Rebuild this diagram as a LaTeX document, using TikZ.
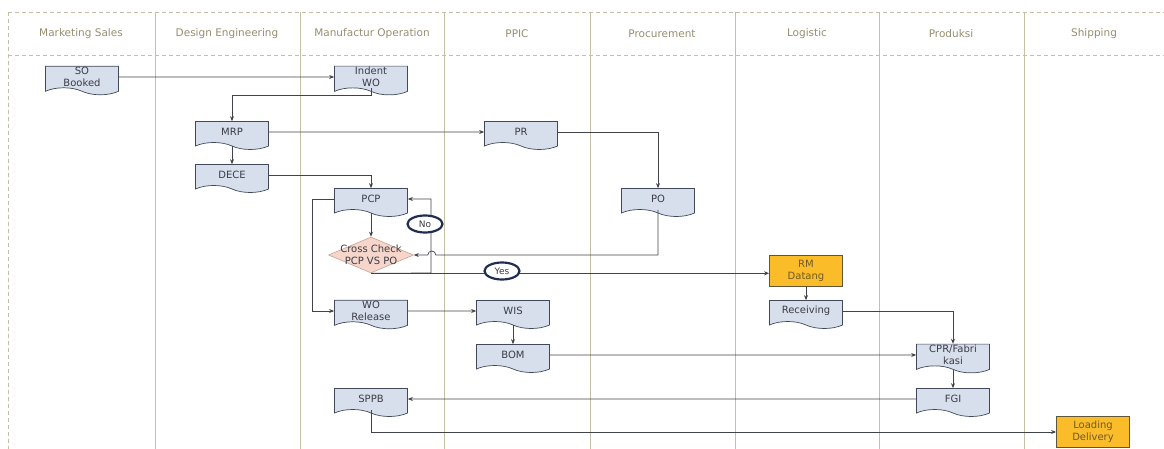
\documentclass[tikz,border=0pt]{standalone}
\usepackage{fontspec}
\setmainfont{DejaVu Sans}
\usetikzlibrary{shapes.symbols,shapes.geometric,arrows.meta}
\definecolor{docfill}{RGB}{214,223,235}
\definecolor{docline}{RGB}{65,72,90}
\definecolor{doctext}{RGB}{60,60,70}
\definecolor{laneline}{RGB}{195,192,165}
\definecolor{headtext}{RGB}{150,142,112}
\definecolor{diafill}{RGB}{246,214,202}
\definecolor{dialine}{RGB}{205,160,150}
\definecolor{orfill}{RGB}{250,188,40}
\definecolor{orline}{RGB}{95,85,55}
\definecolor{ortext}{RGB}{110,90,40}
\definecolor{navy}{RGB}{30,45,80}
\definecolor{conline}{RGB}{65,67,75}
\begin{document}
\begin{tikzpicture}[x=1pt,y=-1pt,
>={Stealth[length=5pt,width=4pt]},
lane/.style={draw=laneline,line width=0.8pt},
border/.style={draw=laneline,line width=0.8pt,dash pattern=on 4pt off 3pt},
head/.style={text=headtext,font=\fontsize{10.5}{12}\selectfont},
doc1/.style={tape,tape bend top=none,tape bend bottom=out and in,tape bend height=7pt,draw=docline,fill=docfill,line width=0.7pt,minimum width=73pt,minimum height=28pt,inner sep=1pt,align=center,text=doctext,font=\fontsize{10}{12}\selectfont},
rect1/.style={rectangle,draw=orline,fill=orfill,line width=0.8pt,minimum width=73pt,minimum height=31pt,inner sep=1pt,align=center,text=ortext,font=\fontsize{10}{12}\selectfont},
diam1/.style={diamond,draw=dialine,fill=diafill,line width=0.6pt,minimum width=85pt,minimum height=36pt,inner sep=0pt},
circle1/.style={ellipse,draw=navy,fill=white,line width=2.2pt,minimum width=35pt,minimum height=17pt,inner sep=0pt,text=doctext,font=\fontsize{9}{10}\selectfont},
conn/.style={draw=conline,line width=0.7pt},
]
\useasboundingbox (0,0) rectangle (1164,449);

% swimlanes
\draw[border] (8,12) -- (1164,12);
\draw[border] (8,55) -- (1164,55);
\draw[border] (8,12) -- (8,449);
\foreach \x in {155,300,444,590,735,879,1024}
  \draw[lane] (\x,12) -- (\x,449);

\node[head] (h1) at (81,34) {Marketing Sales};
\node[head] (h2) at (227,34) {Design Engineering};
\node[head] (h3) at (372,34) {Manufactur Operation};
\node[head] (h4) at (517,34) {PPIC};
\node[head] (h5) at (662,34) {Procurement};
\node[head] (h6) at (807,34) {Logistic};
\node[head] (h7) at (951,34) {Produksi};
\node[head] (h8) at (1094,34) {Shipping};

% proses
\node[doc1] (so) at (82,77) {SO\\Booked};
\node[doc1] (iwo) at (371,77) {Indent\\WO};
\node[doc1] (mrp) at (232,132) {MRP};
\node[doc1] (pr) at (521,132) {PR};
\node[doc1] (dece) at (232,175) {DECE};
\node[doc1] (pcp) at (371,199) {PCP};
\node[doc1] (po) at (658,199) {PO};
\node[diam1,label={[text=doctext,font=\fontsize{10}{12}\selectfont,align=center]center:Cross Check\\PCP VS PO}] (cross) at (371,255) {};
\node[rect1] (rmd) at (806,271) {RM\\Datang};
\node[doc1] (recv) at (806,311) {Receiving};
\node[doc1] (wor) at (371,311) {WO\\Release};
\node[doc1] (wis) at (513,311) {WIS};
\node[doc1] (bom) at (513,355) {BOM};
\node[doc1] (cpr) at (953,355) {CPR/Fabri\\kasi};
\node[doc1] (fgi) at (953,399) {FGI};
\node[doc1] (sppb) at (371,399) {SPPB};
\node[rect1] (load) at (1093,432) {Loading\\Delivery};
\coordinate (nobend) at (431,273);

\draw[conn,->] (so) -- (iwo);
\draw[conn,->] (iwo.south) -- ++(0,7) -| (mrp.north);
\draw[conn,->] (mrp) -- (pr);
\draw[conn,->] (pr) -| (po);
\draw[conn,->] (mrp) -- (dece);
\draw[conn,->] (dece) -| (pcp);
\draw[conn,->] (pcp) -- (cross);
\draw[conn,->] (po.south) |- ([xshift=22pt]cross.east) arc[start angle=0,end angle=180,radius=4pt] -- (cross.east);
\draw[conn,->] (cross.south) -- (nobend) |- (pcp.east);
\draw[conn,->] (cross.south) -- (cross.south -| rmd.west);
\draw[conn,->] (pcp.west) -- ++(-22,0) |- (wor.west);
\draw[conn,->] (wor) -- (wis);
\draw[conn,->] (wis) -- (bom);
\draw[conn,->] (bom) -- (cpr);
\draw[conn,->] (rmd) -- (recv);
\draw[conn,->] (recv) -| (cpr);
\draw[conn,->] (cpr) -- (fgi);
\draw[conn,->] (fgi) -- (sppb);
\draw[conn,->] (sppb.south) |- (load.west);

\node[circle1] (no) at (425,224) {No};
\node[circle1] (yes) at (502,271) {Yes};
\end{tikzpicture}
\end{document}
